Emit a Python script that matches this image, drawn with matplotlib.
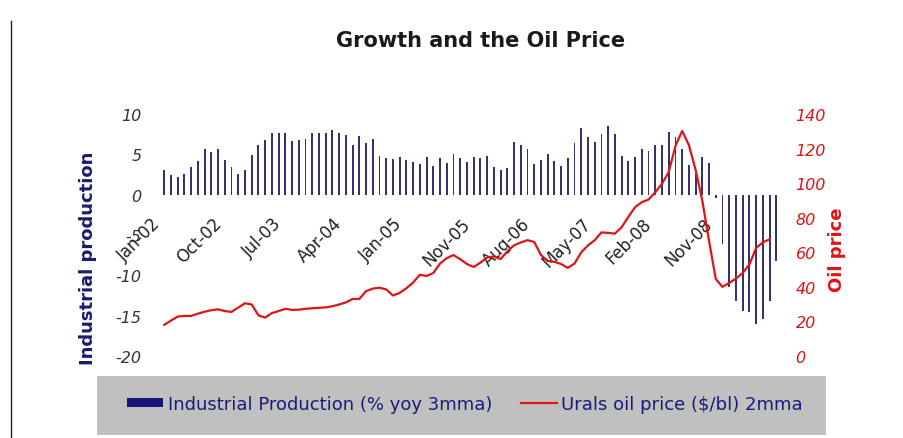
import matplotlib
matplotlib.use("Agg")
import matplotlib.pyplot as plt
from matplotlib.patches import Rectangle, Patch
from matplotlib.lines import Line2D
import numpy as np

# ---- data ----
industrial_production = [
    3.1, 2.4, 2.2, 2.6, 3.4, 4.2, 5.6, 5.3, 5.7, 4.3,
    3.4, 2.6, 3.0, 4.9, 6.1, 6.8, 7.6, 7.6, 7.7, 6.6,
    6.8, 6.9, 7.6, 7.6, 7.6, 8.0, 7.6, 7.4, 6.2, 7.3,
    6.35, 6.9, 4.85, 4.6, 4.4, 4.7, 4.3, 4.0, 3.8, 4.7,
    3.6, 4.5, 3.9, 5.1, 4.5, 4.0, 4.7, 4.5, 4.85, 3.4,
    3.1, 3.3, 6.5, 6.1, 5.6, 3.8, 4.3, 5.0, 4.15, 3.5,
    4.5, 6.4, 8.3, 7.1, 6.5, 7.55, 8.5, 7.55, 4.85, 4.2,
    4.65, 5.7, 5.4, 6.2, 6.2, 7.8, 7.2, 5.7, 3.7, 2.9,
    4.7, 3.9, -0.4, -6.1, -11.5, -13.2, -14.4, -14.6, -16.0, -15.4,
    -13.2, -8.2,
]
urals_price = [
    18, 20.5, 22.8, 23.2, 23.2, 24.5, 25.6, 26.5, 27, 26,
    25.5, 28, 30.5, 29.8, 23.5, 22.2, 24.8, 26, 27.3, 26.7,
    26.8, 27.3, 27.6, 27.9, 28.1, 28.8, 29.8, 31, 33, 33,
    37.5, 39, 39.5, 38.5, 35, 36.5, 39.2, 42.5, 47, 46.3,
    48, 53.5, 56.6, 58.4, 56, 53.2, 51.5, 54, 57, 57.6,
    56.1, 60.5, 64, 65.7, 67, 66, 58.5, 55, 54.5, 53.2,
    51, 53.5, 60, 64, 67, 71.5, 71.2, 70.8, 74.5, 80.5,
    86.1, 89, 90.5, 94.7, 99.7, 106.4, 121.5, 130.2, 122, 107.7,
    89.7, 66.5, 44.5, 40, 42.3, 44.8, 48, 53, 62.5, 65.8,
    67.5,
]
tick_positions = [0, 9, 18, 27, 36, 46, 55, 64, 73, 82]
tick_labels = ["Jan-02", "Oct-02", "Jul-03", "Apr-04", "Jan-05",
               "Nov-05", "Aug-06", "May-07", "Feb-08", "Nov-08"]
left_ticks = [-20, -15, -10, -5, 0, 5, 10]
right_ticks = [0, 20, 40, 60, 80, 100, 120, 140]

W, H = 904, 439
fig = plt.figure(figsize=(W / 100, H / 100), dpi=100)

x0, x1 = 160.9, 779.7
y_top, y_bot = 115, 357
ax = fig.add_axes([x0 / W, (H - y_bot) / H, (x1 - x0) / W, (y_bot - y_top) / H])

xb = np.arange(len(industrial_production))
ax.bar(xb, industrial_production, width=0.28, color="#34346a", zorder=2)
ax.set_xlim(-0.5, len(industrial_production) - 0.5)
ax.set_ylim(-20, 10)

for s in ax.spines.values():
    s.set_visible(False)
ax.spines["bottom"].set_position(("data", 0))
ax.set_xticks(tick_positions)
ax.set_xticklabels(tick_labels, rotation=45, ha="right", va="top",
                   fontsize=12, color="#222222")
ax.tick_params(axis="x", length=0, pad=14)
ax.set_yticks(left_ticks)
ax.set_yticklabels([str(v) for v in left_ticks], fontstyle="italic",
                   fontsize=11.5, color="#333333")
ax.tick_params(axis="y", length=0, pad=14)

ax2 = ax.twinx()
xo = np.arange(len(urals_price))
ax2.plot(xo, urals_price, color="#e01414", lw=1.6, zorder=3)
ax2.set_ylim(0, 140)
for s in ax2.spines.values():
    s.set_visible(False)
ax2.set_yticks(right_ticks)
ax2.set_yticklabels([str(v) for v in right_ticks], fontstyle="italic",
                    fontsize=11.5, color="#e01414")
ax2.tick_params(axis="y", length=0, pad=11.5)

# title and axis labels
fig.text(481 / W, (H - 41) / H, "Growth and the Oil Price", ha="center",
         va="center", fontsize=15, fontweight="bold", color="#1a1a1a")
fig.text(88 / W, (H - 258) / H, "Industrial production", rotation=90,
         ha="center", va="center", fontsize=13, fontweight="bold",
         color="#1a1a6e")
fig.text(837 / W, (H - 250) / H, "Oil price", rotation=90, ha="center",
         va="center", fontsize=13, fontweight="bold", color="#e01414")

# page frame line
fig.add_artist(Line2D([11 / W, 11 / W], [0, (H - 22) / H],
                      transform=fig.transFigure, color="#222222", lw=1))

# legend box
fig.add_artist(Rectangle((97 / W, (H - 436) / H), (826 - 97) / W,
                         (436 - 377) / H, transform=fig.transFigure,
                         facecolor="#c0c0c0", edgecolor="none", zorder=0))
handles = [Patch(facecolor="#14147a", edgecolor="none"),
           Line2D([0], [0], color="#e01414", lw=1.6)]
labels = ["Industrial Production (% yoy 3mma)", "Urals oil price ($/bl) 2mma"]
fig.legend(handles, labels, loc="center", bbox_to_anchor=(465 / W, (H - 405) / H),
           ncol=2, frameon=False, fontsize=13, labelcolor="#1a1a7a",
           handlelength=2.0, handleheight=0.4, handletextpad=0.25,
           columnspacing=1.6)

fig.savefig("out.png", dpi=100)
